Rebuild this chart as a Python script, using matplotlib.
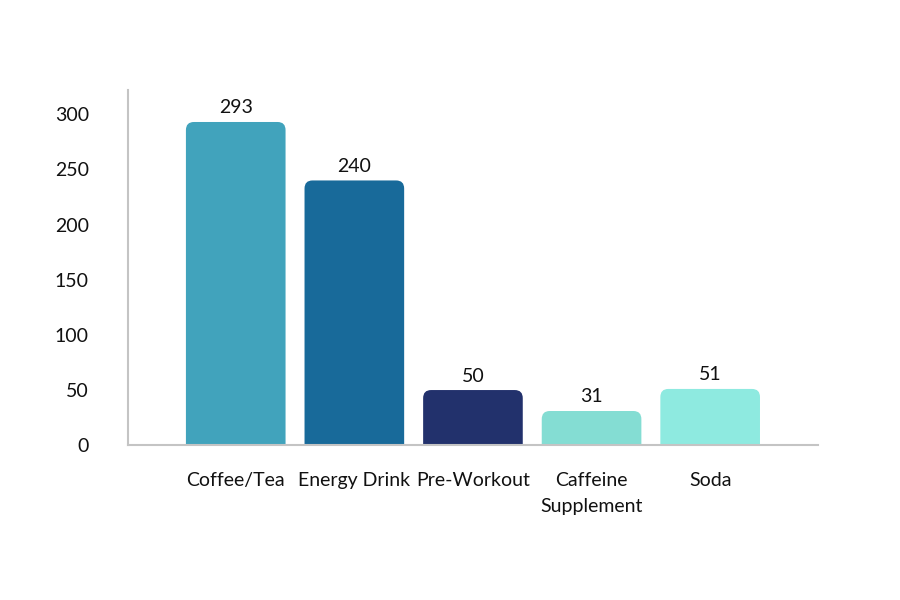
import matplotlib
matplotlib.use("Agg")
import matplotlib.pyplot as plt
from matplotlib.patches import FancyBboxPatch

categories = ["Coffee/Tea", "Energy Drink", "Pre-Workout", "Caffeine\nSupplement", "Soda"]
values = [293, 240, 50, 31, 51]
colors = ["#41A3BC", "#186A9A", "#22316C", "#84DDD3", "#8EEAE0"]

plt.rcParams["font.family"] = ["Lato", "DejaVu Sans"]

fig = plt.figure(figsize=(9, 6), dpi=100)
ax = fig.add_axes([0.142, 0.258, 0.767, 0.592])

width = 0.84
ax.set_xlim(-0.91, len(categories) - 1 + 0.91)
ax.set_ylim(0, 322)

# rounded top corners; bottom corners hidden below y=0 by clipping
rx = 0.067
ry = 7.3
for i, (v, c) in enumerate(zip(values, colors)):
    box = FancyBboxPatch((i - width / 2, -20), width, v + 20,
                         boxstyle=f"round,pad=0,rounding_size={rx}",
                         mutation_aspect=ry / rx,
                         facecolor=c, edgecolor="none")
    ax.add_patch(box)
    ax.text(i, v + 5, str(v), ha="center", va="bottom", fontsize=14, color="#111111")

ax.set_yticks([0, 50, 100, 150, 200, 250, 300])
ax.set_xticks(range(len(categories)))
ax.set_xticklabels(categories, linespacing=1.65)
ax.tick_params(axis="y", length=0, pad=28, labelsize=14, labelcolor="#111111")
ax.tick_params(axis="x", length=0, pad=19, labelsize=14, labelcolor="#111111")

for s in ["top", "right"]:
    ax.spines[s].set_visible(False)
for s in ["left", "bottom"]:
    ax.spines[s].set_color("#c4c4c4")
    ax.spines[s].set_linewidth(1.5)

fig.savefig("out.png", dpi=100)
